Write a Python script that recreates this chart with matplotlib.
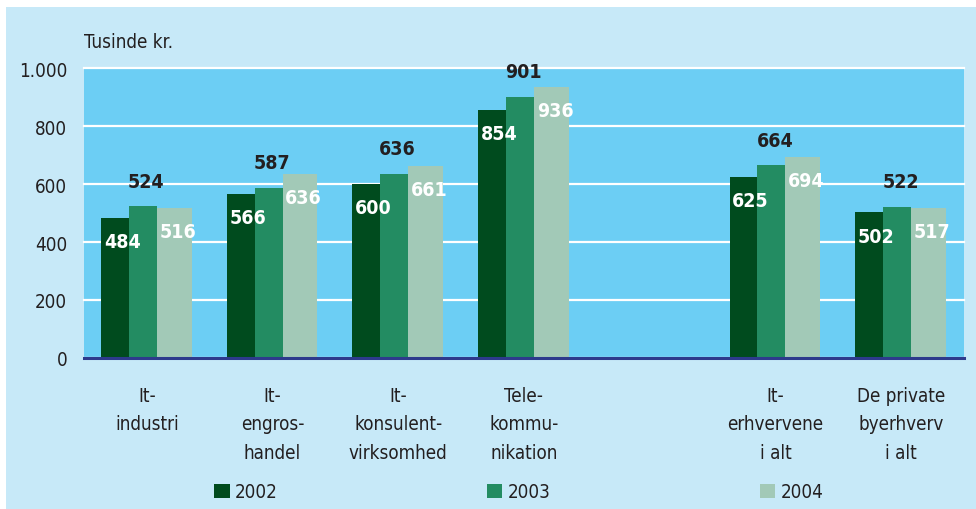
import numpy as np
import matplotlib
matplotlib.use("Agg")
import matplotlib.pyplot as plt
from matplotlib import font_manager as fm
from matplotlib.patches import Rectangle

cond = [f for f in fm.fontManager.ttflist if f.name == "DejaVu Sans" and f.stretch == "condensed"]
plt.rcParams["font.family"] = ["DejaVu Sans"]
if cond:
    plt.rcParams["font.stretch"] = "condensed"

categories = ["It-\nindustri", "It-\nengros-\nhandel", "It-\nkonsulent-\nvirksomhed",
              "Tele-\nkommu-\nnikation", "It-\nerhvervene\ni alt", "De private\nbyerhverv\ni alt"]
years = ["2002", "2003", "2004"]
v2002 = [484, 566, 600, 854, 625, 502]
v2003 = [524, 587, 636, 901, 664, 522]
v2004 = [516, 636, 661, 936, 694, 517]
yticks = [0, 200, 400, 600, 800, 1000]
yticklabels = ["0", "200", "400", "600", "800", "1.000"]

c_dark, c_mid, c_light = "#004b1e", "#238c62", "#a2c9b7"
bg_out, bg_plot = "#c7e9f8", "#6ccef4"
txt = "#231f20"
fs = 13.5
fsv = 14

fig = plt.figure(figsize=(9.76, 5.10), dpi=100)
fig.patch.set_facecolor("white")
fig.patches.append(Rectangle((6/976, 0), 1, (510-8)/510, transform=fig.transFigure,
                             facecolor=bg_out, edgecolor="none", zorder=-10))

ax = fig.add_axes([84/976, 1-359/510, 880/976, 290/510])
ax.set_facecolor(bg_plot)

x = np.arange(len(categories)).astype(float)
x[4:] += 1  # empty slot between groups

w_n, w_w = 0.222, 0.278
b1 = ax.bar(x - 0.365, v2002, w_n, align="edge", color=c_dark, zorder=3, label=years[0])
b2 = ax.bar(x - 0.143, v2003, w_n, align="edge", color=c_mid, zorder=3, label=years[1])
b3 = ax.bar(x + 0.079, v2004, w_w, align="edge", color=c_light, zorder=3, label=years[2])

ax.set_xlim(-0.5, 6.5)
ax.set_ylim(0, 1000)
ax.set_yticks(yticks)
ax.set_yticklabels(yticklabels, fontsize=fs, color=txt)
ax.yaxis.grid(True, color="white", lw=1.6, zorder=1)
for gl in ax.yaxis.get_gridlines():
    gl.set_clip_on(False)
ax.set_axisbelow(True)
ax.tick_params(axis="y", length=0, pad=12)
ax.set_xticks(x)
ax.set_xticklabels(categories, fontsize=fs, color=txt, linespacing=1.64, va="top")
ax.tick_params(axis="x", length=0, pad=20)
for s in ["top", "right", "left"]:
    ax.spines[s].set_visible(False)
ax.spines["bottom"].set_color("#2d3a8c")
ax.spines["bottom"].set_linewidth(2.2)
ax.spines["bottom"].set_zorder(5)

for bars, vals in [(b1, v2002), (b3, v2004)]:
    for r, v in zip(bars, vals):
        ax.annotate(str(v), (r.get_x(), v), xytext=(2, -17), textcoords="offset points",
                    ha="left", va="center", color="white", fontsize=fsv, fontweight="bold", zorder=6)
for xi, v in zip(x, v2003):
    ax.annotate(str(v), (xi - 0.005, v), xytext=(0, 18), textcoords="offset points",
                ha="center", va="center", color=txt, fontsize=fsv, fontweight="bold", zorder=6)

fig.text(84/976, 1-43/510, "Tusinde kr.", fontsize=fs, color=txt, ha="left", va="center")

leg = fig.legend(handles=[b1, b2, b3], labels=years, loc="center", ncol=3,
                 bbox_to_anchor=(519/976, 1-493/510), frameon=False, fontsize=fs,
                 handlelength=0.82, handleheight=0.82, handletextpad=0.3, columnspacing=11.15)
for t in leg.get_texts():
    t.set_color(txt)

fig.savefig("out.png", dpi=100, facecolor=fig.get_facecolor())
